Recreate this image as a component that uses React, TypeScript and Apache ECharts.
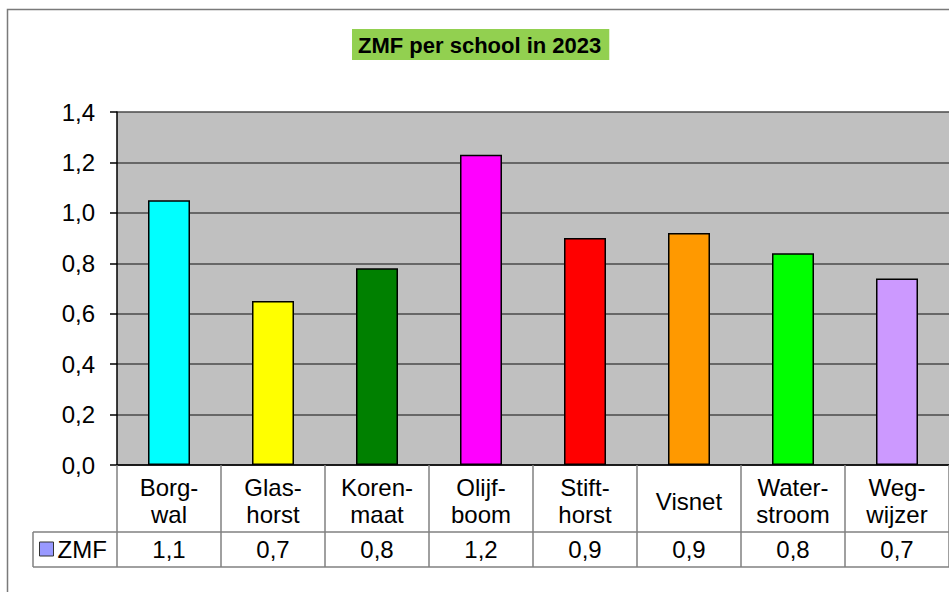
import React, { useEffect, useRef } from "react";
import * as echarts from "echarts";

const categories = ["Borgwal", "Glashorst", "Korenmaat", "Olijfboom", "Stifthorst", "Visnet", "Waterstroom", "Wegwijzer"];
const categoryLabels = ["Borg-\nwal", "Glas-\nhorst", "Koren-\nmaat", "Olijf-\nboom", "Stift-\nhorst", "Visnet", "Water-\nstroom", "Weg-\nwijzer"];
const zmfValues = [1.05, 0.65, 0.78, 1.23, 0.9, 0.92, 0.84, 0.74];
const barColors = ["#00FFFF", "#FFFF00", "#008000", "#FF00FF", "#FF0000", "#FF9900", "#00FF00", "#CC99FF"];
const seriesName = "ZMF";
const titleText = "ZMF per school in 2023";

const FONT = "'Liberation Sans', Arial, sans-serif";
const fmt = (v: number) => v.toFixed(1).replace(".", ",");

export default function App() {
  const ref = useRef<HTMLDivElement>(null);
  useEffect(() => {
    if (!ref.current) return;
    const chart = echarts.init(ref.current, undefined, { renderer: "svg" });
    const option: any = {
      animation: false,
      backgroundColor: "#ffffff",
      textStyle: { fontFamily: FONT },
      title: {
        text: titleText,
        left: 352,
        top: 29,
        padding: [5, 8, 4, 6],
        backgroundColor: "#92D050",
        textStyle: { fontSize: 22, fontWeight: "bold", color: "#000", fontFamily: FONT },
      },
      legend: {
        left: 39,
        top: 537,
        itemWidth: 14,
        itemHeight: 14,
        icon: "rect",
        itemStyle: { color: "#9999FF", borderColor: "#333", borderWidth: 1 },
        textStyle: { fontSize: 24, color: "#000", fontFamily: FONT, padding: [0, 0, 0, -1] },
        padding: 0,
        data: [seriesName],
      },
      grid: { left: 117, top: 112, right: -10, bottom: 127, containLabel: false },
      yAxis: {
        type: "value",
        min: 0,
        max: 1.4,
        interval: 0.2,
        axisLine: { show: true, lineStyle: { color: "#000", width: 1.5 } },
        axisTick: { show: true, length: 7, lineStyle: { color: "#000", width: 1.5 } },
        axisLabel: { formatter: (v: number) => fmt(v), fontSize: 24, color: "#000", margin: 22, fontFamily: FONT },
        splitLine: { show: true, lineStyle: { color: "#4a4a4a", width: 1.5 } },
      },
      xAxis: [
        {
          type: "category",
          data: categories,
          position: "bottom",
          axisLine: { show: true, lineStyle: { color: "#000", width: 1.5 } },
          axisTick: { show: true, length: 102, interval: 0, alignWithLabel: false, lineStyle: { color: "#808080", width: 1.5 } },
          axisLabel: {
            interval: 0,
            formatter: (_v: string, i: number) => categoryLabels[i],
            fontSize: 24,
            lineHeight: 27,
            color: "#000",
            margin: 36,
            verticalAlign: "middle",
            fontFamily: FONT,
          },
        },
        {
          type: "category",
          data: categories,
          position: "bottom",
          offset: 67,
          axisLine: { show: false },
          axisTick: { show: false },
          axisLabel: {
            interval: 0,
            formatter: (_v: string, i: number) => fmt(zmfValues[i]),
            fontSize: 24,
            color: "#000",
            margin: 17,
            verticalAlign: "middle",
            fontFamily: FONT,
          },
        },
      ],
      series: [
        {
          name: seriesName,
          type: "bar",
          xAxisIndex: 0,
          barWidth: 42,
          itemStyle: { color: "#9999FF", borderColor: "#000", borderWidth: 1.5 },
          data: zmfValues.map((v, i) => ({ value: v, itemStyle: { color: barColors[i] } })),
        },
      ],
      graphic: [
        {
          type: "rect",
          shape: { x: 117, y: 112, width: 842, height: 353 },
          style: { fill: "#C0C0C0" },
          z: -10,
          silent: true,
        },
        {
          type: "polyline",
          shape: { points: [[7.5, 592], [7.5, 9.5], [949, 9.5]] },
          style: { stroke: "#7a7a7a", lineWidth: 1.5, fill: null },
          silent: true,
        },
        {
          type: "line",
          shape: { x1: 33, y1: 532, x2: 949, y2: 532 },
          style: { stroke: "#808080", lineWidth: 1.5 },
          silent: true,
        },
        {
          type: "line",
          shape: { x1: 33, y1: 567, x2: 949, y2: 567 },
          style: { stroke: "#808080", lineWidth: 1.5 },
          silent: true,
        },
        {
          type: "line",
          shape: { x1: 33, y1: 532, x2: 33, y2: 567 },
          style: { stroke: "#808080", lineWidth: 1.5 },
          silent: true,
        },
      ],
    };
    chart.setOption(option);
    return () => chart.dispose();
  }, []);
  return (
    <div
      ref={ref}
      style={{ position: "absolute", left: 0, top: 0, width: 949, height: 592 }}
    />
  );
}
